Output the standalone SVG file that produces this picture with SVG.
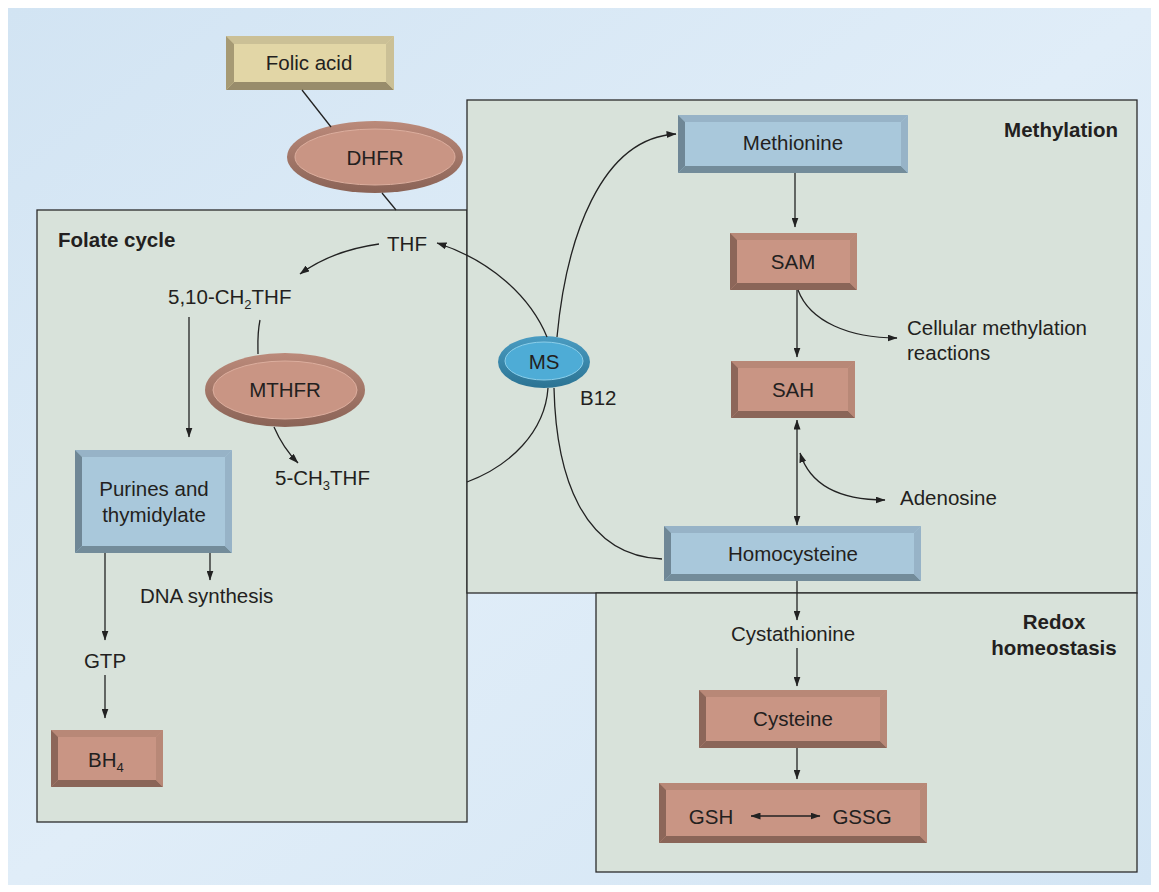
<svg xmlns="http://www.w3.org/2000/svg" width="1159" height="892" viewBox="0 0 1159 892">
<defs>
<linearGradient id="bg" x1="0" y1="0" x2="1" y2="1">
<stop offset="0" stop-color="#d2e4f3"/>
<stop offset="0.5" stop-color="#e0edf8"/>
<stop offset="1" stop-color="#d3e5f4"/>
</linearGradient>
<linearGradient id="rimRed" x1="0" y1="0" x2="0" y2="1">
<stop offset="0" stop-color="#bb8a7a"/>
<stop offset="1" stop-color="#8a6356"/>
</linearGradient>
<linearGradient id="rimBlue" x1="0" y1="0" x2="0" y2="1">
<stop offset="0" stop-color="#4a9cc2"/>
<stop offset="1" stop-color="#2b7393"/>
</linearGradient>
<marker id="ah" viewBox="0 0 10 7" refX="9.5" refY="3.5" markerWidth="10" markerHeight="7" markerUnits="userSpaceOnUse" orient="auto-start-reverse">
<path d="M0,0 L10,3.5 L0,7 z" fill="#222"/>
</marker>
</defs>
<style>
text{font-family:"Liberation Sans",Arial,sans-serif;font-size:20.5px;fill:#231f20}
.c{text-anchor:middle}
.b{font-weight:bold}
.sub{font-size:13px}
.region{fill:#d8e2da;stroke:#2b2b2b;stroke-width:1.3}
.ln{fill:none;stroke:#222;stroke-width:1.3}
.ar{marker-end:url(#ah)}
.da{marker-start:url(#ah);marker-end:url(#ah)}
.rf{fill:#c99584}.rt{fill:#b88877}.rl{fill:#8c6659}.rb{fill:#8a6558}.rr{fill:#b88877}
.bf{fill:#a9c8db}.bt{fill:#97b3c7}.bl{fill:#6f8796}.bb{fill:#738c9a}.br{fill:#97b3c7}
.yf{fill:#e2d6a6}.yt{fill:#cbc096}.yl{fill:#a69a74}.yb{fill:#988c6b}.yr{fill:#cbc096}
</style>
<rect x="8" y="8" width="1143" height="877" fill="url(#bg)"/>

<g id="folate-cycle">
<rect class="region" x="37" y="210" width="430" height="612"/>
<text class="b" x="58" y="247">Folate cycle</text>
</g>
<g id="methylation">
<rect class="region" x="467" y="100" width="670" height="493"/>
<text class="b" x="1118" y="137" text-anchor="end">Methylation</text>
</g>
<g id="redox">
<rect class="region" x="596" y="593" width="541" height="279"/>
<text class="b c" x="1054" y="629">Redox</text>
<text class="b c" x="1054" y="655">homeostasis</text>
</g>

<g id="folic-acid">
<rect class="yf" x="226" y="36" width="168" height="54"/>
<polygon class="yt" points="226,36 394,36 386,44 234,44"/>
<polygon class="yb" points="226,90 394,90 386,82 234,82"/>
<polygon class="yl" points="226,36 234,44 234,82 226,90"/>
<polygon class="yr" points="394,36 386,44 386,82 394,90"/>
<text class="c" x="309" y="69.5">Folic acid</text>
</g>

<g id="dhfr">
<ellipse cx="375" cy="157" rx="88" ry="36" fill="url(#rimRed)"/>
<ellipse cx="375" cy="157" rx="80" ry="28" fill="#c99584" stroke="#dcae9e" stroke-width="1"/>
<text class="c" x="375" y="164.5">DHFR</text>
</g>

<g id="thf"><text class="c" x="407" y="250.5">THF</text></g>
<g id="ch2thf"><text x="168" y="304">5,10-CH<tspan class="sub" dy="5">2</tspan><tspan dy="-5">THF</tspan></text></g>

<g id="mthfr">
<ellipse cx="285" cy="390" rx="80" ry="37" fill="url(#rimRed)"/>
<ellipse cx="285" cy="390" rx="72" ry="29" fill="#c99584" stroke="#dcae9e" stroke-width="1"/>
<text class="c" x="285" y="397">MTHFR</text>
</g>
<g id="ch3thf"><text x="275" y="485">5-CH<tspan class="sub" dy="5">3</tspan><tspan dy="-5">THF</tspan></text></g>

<g id="ms">
<ellipse cx="544" cy="362" rx="46" ry="26" fill="url(#rimBlue)"/>
<ellipse cx="544" cy="361" rx="39" ry="19" fill="#4eacd6" stroke="#8ccfea" stroke-width="1"/>
<text class="c" x="544" y="369">MS</text>
</g>
<g id="b12"><text x="580" y="404.5">B12</text></g>

<g id="purines">
<rect class="bf" x="75" y="450" width="157" height="103"/>
<polygon class="bt" points="75,450 232,450 225,457 82,457"/>
<polygon class="bb" points="75,553 232,553 225,546 82,546"/>
<polygon class="bl" points="75,450 82,457 82,546 75,553"/>
<polygon class="br" points="232,450 225,457 225,546 232,553"/>
<text class="c" x="154" y="495.5">Purines and</text>
<text class="c" x="154" y="522">thymidylate</text>
</g>
<g id="dna"><text x="140" y="603">DNA synthesis</text></g>
<g id="gtp"><text class="c" x="105" y="668">GTP</text></g>

<g id="bh4">
<rect class="rf" x="51" y="730" width="112" height="57"/>
<polygon class="rt" points="51,730 163,730 156,737 58,737"/>
<polygon class="rb" points="51,787 163,787 156,780 58,780"/>
<polygon class="rl" points="51,730 58,737 58,780 51,787"/>
<polygon class="rr" points="163,730 156,737 156,780 163,787"/>
<text x="88" y="767">BH<tspan class="sub" dy="5">4</tspan></text>
</g>

<g id="methionine">
<rect class="bf" x="678" y="115" width="230" height="58"/>
<polygon class="bt" points="678,115 908,115 901,122 685,122"/>
<polygon class="bb" points="678,173 908,173 901,166 685,166"/>
<polygon class="bl" points="678,115 685,122 685,166 678,173"/>
<polygon class="br" points="908,115 901,122 901,166 908,173"/>
<text class="c" x="793" y="149.5">Methionine</text>
</g>

<g id="sam">
<rect class="rf" x="730" y="233" width="127" height="57"/>
<polygon class="rt" points="730,233 857,233 850,240 737,240"/>
<polygon class="rb" points="730,290 857,290 850,283 737,283"/>
<polygon class="rl" points="730,233 737,240 737,283 730,290"/>
<polygon class="rr" points="857,233 850,240 850,283 857,290"/>
<text class="c" x="793" y="268.5">SAM</text>
</g>
<g id="cellular"><text x="907" y="334.5">Cellular methylation</text><text x="907" y="359.5">reactions</text></g>

<g id="sah">
<rect class="rf" x="731" y="361" width="124" height="57"/>
<polygon class="rt" points="731,361 855,361 848,368 738,368"/>
<polygon class="rb" points="731,418 855,418 848,411 738,411"/>
<polygon class="rl" points="731,361 738,368 738,411 731,418"/>
<polygon class="rr" points="855,361 848,368 848,411 855,418"/>
<text class="c" x="793" y="396.5">SAH</text>
</g>
<g id="adenosine"><text x="900" y="504.5">Adenosine</text></g>

<g id="homocysteine">
<rect class="bf" x="664" y="526" width="257" height="55"/>
<polygon class="bt" points="664,526 921,526 914,533 671,533"/>
<polygon class="bb" points="664,581 921,581 914,574 671,574"/>
<polygon class="bl" points="664,526 671,533 671,574 664,581"/>
<polygon class="br" points="921,526 914,533 914,574 921,581"/>
<text class="c" x="793" y="560.5">Homocysteine</text>
</g>

<g id="cystathionine"><text class="c" x="793" y="640.5">Cystathionine</text></g>

<g id="cysteine">
<rect class="rf" x="699" y="690" width="188" height="58"/>
<polygon class="rt" points="699,690 887,690 880,697 706,697"/>
<polygon class="rb" points="699,748 887,748 880,741 706,741"/>
<polygon class="rl" points="699,690 706,697 706,741 699,748"/>
<polygon class="rr" points="887,690 880,697 880,741 887,748"/>
<text class="c" x="793" y="725.5">Cysteine</text>
</g>

<g id="glutathione">
<rect class="rf" x="659" y="783" width="268" height="60"/>
<polygon class="rt" points="659,783 927,783 920,790 666,790"/>
<polygon class="rb" points="659,843 927,843 920,836 666,836"/>
<polygon class="rl" points="659,783 666,790 666,836 659,843"/>
<polygon class="rr" points="927,783 920,790 920,836 927,843"/>
<text class="c" x="711" y="823.5">GSH</text>
<text class="c" x="862" y="823.5">GSSG</text>
</g>

<g id="connectors">
<line class="ln" x1="302" y1="90" x2="331" y2="127"/>
<line class="ln" x1="382" y1="193" x2="396" y2="210"/>
<path class="ln ar" d="M547,337 C530,296 490,260 437,243"/>
<path class="ln ar" d="M557,337 C566,240 600,138 676,134"/>
<path class="ln" d="M548,388 C545,432 510,466 467,482"/>
<path class="ln" d="M554,388 C556,475 582,556 662,559"/>
<path class="ln ar" d="M379,244 C350,248 322,258 300,274"/>
<line class="ln ar" x1="189" y1="317" x2="189" y2="437"/>
<path class="ln" d="M260,320 C257,335 258,345 258,354"/>
<path class="ln ar" d="M274,427 C280,441 288,453 298,463"/>
<line class="ln ar" x1="210" y1="553" x2="210" y2="580"/>
<line class="ln ar" x1="105" y1="553" x2="105" y2="640"/>
<line class="ln ar" x1="105" y1="675" x2="105" y2="718"/>
<line class="ln ar" x1="795" y1="173" x2="795" y2="227"/>
<line class="ln ar" x1="797" y1="290" x2="797" y2="357"/>
<path class="ln ar" d="M798,290 C810,322 850,338 897,338"/>
<line class="ln da" x1="797" y1="420" x2="797" y2="525"/>
<path class="ln da" d="M800,453 C810,485 840,500 885,500"/>
<line class="ln ar" x1="797" y1="581" x2="797" y2="620"/>
<line class="ln ar" x1="797" y1="648" x2="797" y2="686"/>
<line class="ln ar" x1="797" y1="748" x2="797" y2="779"/>
<line class="ln da" x1="751" y1="816" x2="820" y2="816"/>
</g>
</svg>
